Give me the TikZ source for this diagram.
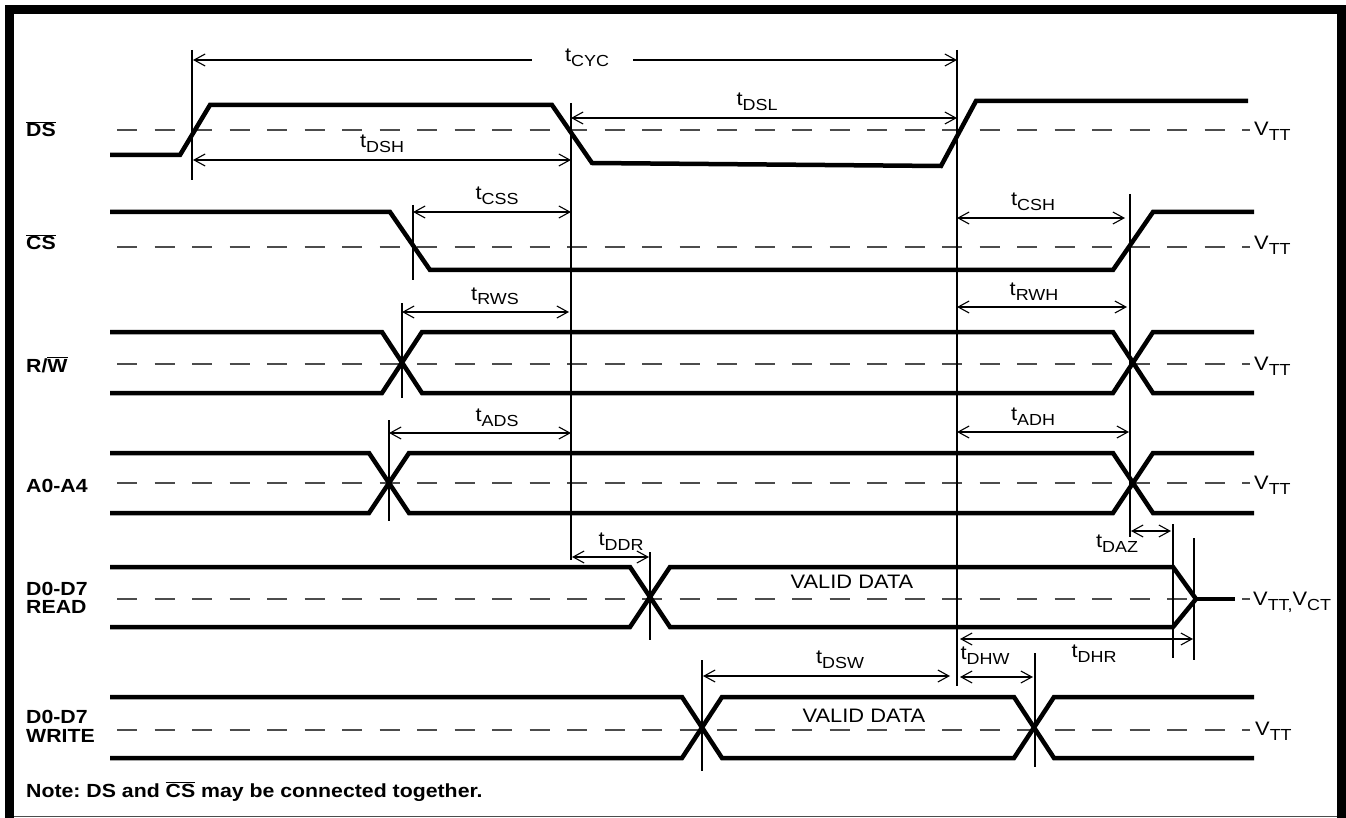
\documentclass[tikz,border=0pt]{standalone}
\usepackage{fontspec}
\setmainfont{Liberation Sans}[FakeStretch=1.12]
\usetikzlibrary{arrows.meta}
\frenchspacing

\newcommand{\tsub}[2]{#1\raisebox{-5pt}{\fontsize{16}{16}\selectfont #2}}
\newcommand{\ovl}[1]{$\overline{\mbox{#1}}$}

\tikzset{
  sig/.style={line width=4.5pt, line join=miter},
  vtt/.style={dash pattern=on 20pt off 17.5pt, line width=1.4pt, black!70},
  guide/.style={line width=1.1pt},
  dim/.style={line width=1.1pt, {Straight Barb[length=11pt,width=12pt]}-{Straight Barb[length=11pt,width=12pt]}},
  dimL/.style={line width=1.1pt, {Straight Barb[length=11pt,width=12pt]}-},
  dimR/.style={line width=1.1pt, -{Straight Barb[length=11pt,width=12pt]}},
  lbl/.style={font=\fontsize{19}{19}\selectfont\bfseries, anchor=base west, inner sep=0pt},
  tlbl/.style={anchor=base, inner sep=0pt},
  vlbl/.style={anchor=base west, inner sep=0pt}
}

\begin{document}
\begin{tikzpicture}[x=1pt, y=-1pt, font=\fontsize{19.5}{19.5}\selectfont]
\useasboundingbox (0,0) rectangle (1346,818);

% 枠
\fill (5,5) rectangle (1346,14);
\fill (5,5) rectangle (14,818);
\fill (1337,5) rectangle (1346,818);
\draw[line width=1.5pt, black!70] (14,816.5) -- (1337,816.5);

% 破線
\draw[vtt] (117,130) -- (1250,130);
\draw[vtt] (117,247) -- (1250,247);
\draw[vtt] (117,364) -- (1250,364);
\draw[vtt] (117,483) -- (1250,483);
\draw[vtt] (117,599) -- (1250,599);
\draw[vtt] (117,730) -- (1250,730);

% 信号
\draw[sig] (110,155) -- (180,155) -- (210,105) -- (552,105) -- (592,163) -- (941,166) -- (976,101) -- (1248,101);
\draw[sig] (110,212) -- (390,212) -- (430,270) -- (1113,270) -- (1153,212) -- (1254,212);
\draw[sig] (110,332) -- (382,332) -- (422,393) -- (1113,393) -- (1153,332) -- (1254,332);
\draw[sig] (110,393) -- (382,393) -- (422,332) -- (1113,332) -- (1153,393) -- (1254,393);
\draw[sig] (110,453) -- (369,453) -- (409,513) -- (1113,513) -- (1153,453) -- (1254,453);
\draw[sig] (110,513) -- (369,513) -- (409,453) -- (1113,453) -- (1153,513) -- (1254,513);
\draw[sig] (110,567) -- (630,567) -- (670,627) -- (1173,627) -- (1196,599) -- (1173,567) -- (670,567) -- (630,627) -- (110,627);
\draw[sig] (1196,599) -- (1235,599);
\draw[sig] (110,697) -- (682,697) -- (722,758) -- (1014,758) -- (1054,697) -- (1254,697);
\draw[sig] (110,758) -- (682,758) -- (722,697) -- (1014,697) -- (1054,758) -- (1254,758);

% 基準線
\draw[guide] (192,50) -- (192,180);
\draw[guide] (571,103) -- (571,560);
\draw[guide] (957,50) -- (957,686);
\draw[guide] (413,205) -- (413,280);
\draw[guide] (1130,194) -- (1130,537);
\draw[guide] (402,303) -- (402,398);
\draw[guide] (389,420) -- (389,521);
\draw[guide] (650,552) -- (650,640);
\draw[guide] (1173,524) -- (1173,658);
\draw[guide] (1194,538) -- (1194,660);
\draw[guide] (702,660) -- (702,771);
\draw[guide] (1035,653) -- (1035,767);

% 矢印の端
\coordinate (cycL) at (193,60);
\coordinate (cycA) at (532,60);
\coordinate (cycB) at (633,60);
\coordinate (cycR) at (957,60);
\coordinate (dslL) at (571,118);
\coordinate (dslR) at (957,118);
\coordinate (dshL) at (193,160);
\coordinate (dshR) at (571,160);
\coordinate (cssL) at (413,212);
\coordinate (cssR) at (571,212);
\coordinate (cshL) at (957,218);
\coordinate (cshR) at (1125,218);
\coordinate (rwsL) at (402,312);
\coordinate (rwsR) at (569,312);
\coordinate (rwhL) at (957,307);
\coordinate (rwhR) at (1127,307);
\coordinate (adsL) at (389,433);
\coordinate (adsR) at (571,433);
\coordinate (adhL) at (957,432);
\coordinate (adhR) at (1129,432);
\coordinate (ddrL) at (572,557);
\coordinate (ddrR) at (649,557);
\coordinate (dazL) at (1131,531);
\coordinate (dazR) at (1171,531);
\coordinate (dhrL) at (960,639);
\coordinate (dhrR) at (1193,639);
\coordinate (dhwL) at (960,677);
\coordinate (dhwR) at (1033,677);
\coordinate (dswL) at (703,676);
\coordinate (dswR) at (950,676);

% 矢印
\draw[dimL] (cycL) -- (cycA);
\draw[dimR] (cycB) -- (cycR);
\draw[dim] (dslL) -- (dslR);
\draw[dim] (dshL) -- (dshR);
\draw[dim] (cssL) -- (cssR);
\draw[dim] (cshL) -- (cshR);
\draw[dim] (rwsL) -- (rwsR);
\draw[dim] (rwhL) -- (rwhR);
\draw[dim] (adsL) -- (adsR);
\draw[dim] (adhL) -- (adhR);
\draw[dim] (ddrL) -- (ddrR);
\draw[dim] (dazL) -- (dazR);
\draw[dim] (dhrL) -- (dhrR);
\draw[dim] (dhwL) -- (dhwR);
\draw[dim] (dswL) -- (dswR);

% 時間の名前
\node[tlbl] (tcyc) at (587,62) {\tsub{t}{CYC}};
\node[tlbl] (tdsl) at (757,106) {\tsub{t}{DSL}};
\node[tlbl] (tdsh) at (382,148) {\tsub{t}{DSH}};
\node[tlbl] (tcss) at (497,200) {\tsub{t}{CSS}};
\node[tlbl] (tcsh) at (1033,206) {\tsub{t}{CSH}};
\node[tlbl] (trws) at (495,300) {\tsub{t}{RWS}};
\node[tlbl] (trwh) at (1034,295) {\tsub{t}{RWH}};
\node[tlbl] (tads) at (497,421) {\tsub{t}{ADS}};
\node[tlbl] (tadh) at (1033,420) {\tsub{t}{ADH}};
\node[tlbl] (tddr) at (621,545) {\tsub{t}{DDR}};
\node[tlbl] (tdaz) at (1117,547) {\tsub{t}{DAZ}};
\node[tlbl] (tdhr) at (1094,657) {\tsub{t}{DHR}};
\node[tlbl] (tdhw) at (985,659) {\tsub{t}{DHW}};
\node[tlbl] (tdsw) at (840,663) {\tsub{t}{DSW}};
\node[tlbl] (vdr) at (852,588) {VALID DATA};
\node[tlbl] (vdw) at (864,722) {VALID DATA};

% 信号の名前
\node[lbl] (lds) at (26,137) {\ovl{DS}};
\node[lbl] (lcs) at (26,250) {\ovl{CS}};
\node[lbl] (lrw) at (26,372) {R/\ovl{W}};
\node[lbl] (lad) at (26,492) {A0-A4};
\node[lbl] (lrd1) at (26,595) {D0-D7};
\node[lbl] (lrd2) at (26,613) {READ};
\node[lbl] (lwr1) at (26,723) {D0-D7};
\node[lbl] (lwr2) at (26,742) {WRITE};
\node[lbl] (note) at (26,797) {Note: DS and \ovl{CS} may be connected together.};

% V_TT
\node[vlbl] (vds) at (1254,136) {\tsub{V}{TT}};
\node[vlbl] (vcs) at (1254,250) {\tsub{V}{TT}};
\node[vlbl] (vrw) at (1254,370) {\tsub{V}{TT}};
\node[vlbl] (vad) at (1254,489) {\tsub{V}{TT}};
\node[vlbl] (vrd) at (1253,605) {\tsub{V}{TT,}\tsub{V}{CT}};
\node[vlbl] (vwr) at (1255,735) {\tsub{V}{TT}};
\end{tikzpicture}
\end{document}
